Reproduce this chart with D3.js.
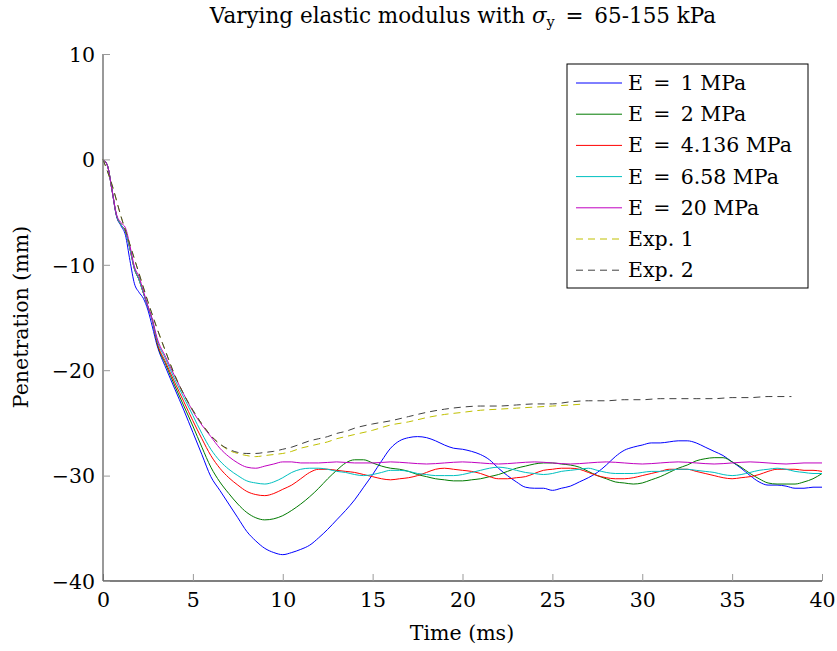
<!DOCTYPE html>
<html>
<head>
<meta charset="utf-8">
<script src="https://cdn.jsdelivr.net/npm/d3@7"></script>
<style>
  body { margin: 0; background: #fff; }
  text { font-family: "DejaVu Serif", "Liberation Serif", serif; fill: #000; }
</style>
</head>
<body>
<svg width="837" height="651"></svg>
<script>
// Chart data (time in ms, penetration in mm)
const xTicks = [0, 5, 10, 15, 20, 25, 30, 35, 40];
const yTicks = [10, 0, -10, -20, -30, -40];

const early = [[0, 0], [0.25, -0.6], [0.5, -2.9], [0.75, -5.3], [1, -6.2], [1.25, -6.8], [1.5, -8.5], [1.75, -10.4], [2, -11.4], [2.25, -12.7], [2.5, -14], [2.75, -15.3]];

const e1 = [[0, 0], [0.25, -0.6], [0.5, -2.9], [0.75, -5.4], [1, -6.3], [1.25, -7.2], [1.5, -9.6], [1.75, -11.8], [2, -12.6], [2.25, -13.2], [2.5, -14.3], [2.75, -15.9],
  [3, -17.6], [3.5, -19.8], [4, -21.8], [4.5, -23.8], [5, -25.9], [5.5, -28], [6, -30.1], [6.5, -31.4], [7, -32.7], [7.5, -34], [8, -35.3], [8.5, -36.2], [9, -36.9], [9.5, -37.3], [10, -37.5],
  [10.5, -37.3], [11, -37], [11.5, -36.6], [12, -35.9], [12.5, -35.1], [13, -34.2], [13.5, -33.3], [14, -32.3], [14.5, -31.1], [15, -29.9], [15.5, -28.6], [16, -27.4], [16.5, -26.7],
  [17, -26.4], [17.5, -26.3], [18, -26.4], [18.5, -26.7], [19, -27.1], [19.5, -27.4], [20, -27.5], [20.5, -27.7], [21, -28], [21.5, -28.5], [22, -29.3], [22.5, -30], [23, -30.6],
  [23.5, -31.1], [24, -31.2], [24.5, -31.2], [25, -31.4], [25.5, -31.2], [26, -31], [26.5, -30.6], [27, -30.2], [27.5, -29.7], [28, -29], [28.5, -28.2], [29, -27.6], [29.5, -27.3],
  [30, -27.1], [30.5, -26.9], [31, -26.9], [31.5, -26.8], [32, -26.7], [32.5, -26.7], [33, -26.9], [33.5, -27.3], [34, -27.7], [34.5, -28.1], [35, -28.7], [35.5, -29.3], [36, -30],
  [36.5, -30.6], [37, -30.9], [37.5, -30.9], [38, -31], [38.5, -31.2], [39, -31.2], [39.5, -31.1], [40, -31.1]];

const e2 = early.concat([[3, -17.4], [3.5, -19.5], [4, -21.5], [4.5, -23.4], [5, -25.3], [5.5, -27.3], [6, -29.2], [6.5, -30.6], [7, -31.7], [7.5, -32.7], [8, -33.5], [8.5, -34], [9, -34.2],
  [9.5, -34.1], [10, -33.8], [10.5, -33.3], [11, -32.7], [11.5, -32], [12, -31.2], [12.5, -30.3], [13, -29.5], [13.5, -28.8], [14, -28.5], [14.5, -28.5], [15, -28.8], [15.5, -29.1],
  [16, -29.3], [16.5, -29.4], [17, -29.6], [17.5, -29.9], [18, -30.1], [18.5, -30.3], [19, -30.4], [19.5, -30.5], [20, -30.5], [20.5, -30.4], [21, -30.3], [21.5, -30.1], [22, -29.9],
  [22.5, -29.6], [23, -29.3], [23.5, -29.1], [24, -28.9], [24.5, -28.8], [25, -28.8], [25.5, -28.9], [26, -29], [26.5, -29.2], [27, -29.6], [27.5, -30], [28, -30.3], [28.5, -30.6],
  [29, -30.7], [29.5, -30.8], [30, -30.7], [30.5, -30.4], [31, -30.1], [31.5, -29.7], [32, -29.3], [32.5, -29], [33, -28.6], [33.5, -28.4], [34, -28.3], [34.5, -28.3], [35, -28.7],
  [35.5, -29.2], [36, -29.8], [36.5, -30.3], [37, -30.7], [37.5, -30.8], [38, -30.8], [38.5, -30.8], [39, -30.6], [39.5, -30.3], [40, -29.8]]);

const e4 = early.concat([[3, -17.3], [3.5, -19.3], [4, -21.2], [4.5, -23], [5, -24.8], [5.5, -26.5], [6, -28.1], [6.5, -29.3], [7, -30.2], [7.5, -30.9], [8, -31.5], [8.5, -31.8], [9, -31.9],
  [9.5, -31.7], [10, -31.3], [10.5, -30.9], [11, -30.3], [11.5, -29.7], [12, -29.4], [12.5, -29.4], [13, -29.5], [13.5, -29.6], [14, -29.7], [14.5, -29.9], [15, -30.1], [15.5, -30.3],
  [16, -30.4], [16.5, -30.3], [17, -30.2], [17.5, -30], [18, -29.7], [18.5, -29.4], [19, -29.3], [19.5, -29.4], [20, -29.5], [20.5, -29.6], [21, -29.8], [21.5, -30.1], [22, -30.3],
  [22.5, -30.3], [23, -30.2], [23.5, -30.1], [24, -29.8], [24.5, -29.5], [25, -29.4], [25.5, -29.3], [26, -29.3], [26.5, -29.4], [27, -29.7], [27.5, -30], [28, -30.2], [28.5, -30.3],
  [29, -30.3], [29.5, -30.2], [30, -30], [30.5, -29.8], [31, -29.6], [31.5, -29.4], [32, -29.4], [32.5, -29.4], [33, -29.6], [33.5, -29.8], [34, -30], [34.5, -30.2], [35, -30.3],
  [35.5, -30.2], [36, -30.1], [36.5, -29.9], [37, -29.6], [37.5, -29.4], [38, -29.4], [38.5, -29.4], [39, -29.5], [39.5, -29.5], [40, -29.6]]);

const e658 = early.concat([[3, -17.1], [3.5, -19], [4, -20.9], [4.5, -22.6], [5, -24.3], [5.5, -26], [6, -27.5], [6.5, -28.6], [7, -29.4], [7.5, -30], [8, -30.5], [8.5, -30.7], [9, -30.8],
  [9.5, -30.6], [10, -30.2], [10.5, -29.7], [11, -29.4], [11.5, -29.3], [12, -29.3], [12.5, -29.4], [13, -29.6], [13.5, -29.7], [14, -29.9], [14.5, -30], [15, -29.9], [15.5, -29.7],
  [16, -29.5], [16.5, -29.5], [17, -29.6], [17.5, -29.8], [18, -29.9], [18.5, -30], [19, -30], [19.5, -30], [20, -29.9], [20.5, -29.7], [21, -29.5], [21.5, -29.3], [22, -29.2],
  [22.5, -29.3], [23, -29.5], [23.5, -29.7], [24, -29.8], [24.5, -29.9], [25, -29.8], [25.5, -29.6], [26, -29.5], [26.5, -29.4], [27, -29.3], [27.5, -29.5], [28, -29.7], [28.5, -29.8],
  [29, -29.8], [29.5, -29.8], [30, -29.7], [30.5, -29.6], [31, -29.6], [31.5, -29.5], [32, -29.4], [32.5, -29.4], [33, -29.5], [33.5, -29.6], [34, -29.7], [34.5, -29.9], [35, -30],
  [35.5, -29.9], [36, -29.7], [36.5, -29.5], [37, -29.4], [37.5, -29.3], [38, -29.4], [38.5, -29.6], [39, -29.7], [39.5, -29.8], [40, -29.8]]);

const e20 = [[0, 0], [0.25, -0.6], [0.5, -2.9], [0.75, -5.2], [1, -6], [1.25, -6.5], [1.5, -8.2], [1.75, -10.2], [2, -11.1], [2.25, -12.5], [2.5, -13.9], [2.75, -15.2],
  [3, -16.9], [3.5, -18.8], [4, -20.6], [4.5, -22.3], [5, -23.9], [5.5, -25.2], [6, -26.3], [6.5, -27.4], [7, -28.2], [7.5, -28.8], [8, -29.2], [8.5, -29.3], [9, -29.1], [9.5, -28.9],
  [10, -28.7], [10.5, -28.7], [11, -28.8], [11.5, -28.8], [12, -28.8], [13, -28.7], [14, -28.8], [15, -28.8], [16, -28.7], [17, -28.8], [18, -28.9], [19, -28.8], [20, -28.7],
  [21, -28.8], [22, -28.9], [23, -28.8], [24, -28.7], [25, -28.8], [26, -28.9], [27, -28.8], [28, -28.7], [29, -28.8], [30, -28.9], [31, -28.8], [32, -28.7], [33, -28.8],
  [34, -28.9], [35, -28.8], [36, -28.7], [37, -28.8], [38, -28.9], [39, -28.8], [40, -28.8]];

const exp1 = [[0, 0], [0.5, -2.4], [1, -5.4], [1.5, -8.1], [2, -10.8], [2.5, -13.5], [3, -16], [3.5, -18.3], [4, -20.5], [4.5, -22.3], [5, -23.8], [5.5, -25.1], [6, -26.2], [6.5, -27],
  [7, -27.6], [7.5, -27.9], [8, -28.1], [8.5, -28.2], [9, -28.1], [9.5, -28], [10, -27.9], [10.5, -27.7], [11, -27.4], [11.5, -27.2], [12, -27], [12.5, -26.8], [13, -26.5],
  [13.5, -26.3], [14, -26.1], [15, -25.7], [16, -25.2], [17, -24.9], [18, -24.5], [19, -24.2], [20, -24], [21, -23.8], [22, -23.7], [23, -23.6], [24, -23.5], [25, -23.4],
  [26, -23.3], [26.8, -23.2]];

const exp2 = [[0, 0], [0.5, -2.4], [1, -5.4], [1.5, -8.1], [2, -10.8], [2.5, -13.5], [3, -16], [3.5, -18.3], [4, -20.5], [4.5, -22.3], [5, -23.8], [5.5, -25.1], [6, -26.2], [6.5, -27],
  [7, -27.5], [7.5, -27.8], [8, -27.9], [8.5, -27.9], [9, -27.8], [9.5, -27.7], [10, -27.5], [10.5, -27.3], [11, -27], [11.5, -26.7], [12, -26.5], [12.5, -26.3], [13, -26],
  [13.5, -25.8], [14, -25.5], [15, -25.1], [16, -24.8], [17, -24.4], [18, -24], [19, -23.7], [20, -23.5], [21, -23.4], [22, -23.4], [23, -23.3], [24, -23.2], [25, -23.2],
  [26, -23], [27, -22.9], [28, -22.9], [29, -22.8], [30, -22.8], [31, -22.7], [32, -22.7], [33, -22.7], [34, -22.7], [35, -22.6], [36, -22.6], [37, -22.5], [38.3, -22.5]];

// en spaces around "=" mimic the wider math spacing
const seriesNames = ["E\u2002=\u20021 MPa", "E\u2002=\u20022 MPa", "E\u2002=\u20024.136 MPa", "E\u2002=\u20026.58 MPa", "E\u2002=\u200220 MPa", "Exp. 1", "Exp. 2"];
const seriesData = [e1, e2, e4, e658, e20, exp1, exp2];
const seriesColors = ["#0000ff", "#007a00", "#ff0000", "#00c0c0", "#c000c0", "#c0c000", "#404040"];
const seriesDashed = [false, false, false, false, false, true, true];

const margin = { top: 54, right: 15, bottom: 70, left: 103 };
const width = 837, height = 651;
const fontSize = 20.5;

const svg = d3.select("svg");

const x = d3.scaleLinear().domain([0, 40]).range([margin.left, width - margin.right]);
const y = d3.scaleLinear().domain([-40, 10]).range([height - margin.bottom, margin.top]);

const fmt = d => d < 0 ? "\u2212" + Math.abs(d) : d;

// Lines
const line = d3.line()
    .x(d => x(d[0]))
    .y(d => y(d[1]))
    .curve(d3.curveMonotoneX);

seriesData.forEach((data, i) => {
    svg.append("path")
        .datum(data)
        .attr("fill", "none")
        .attr("stroke", seriesColors[i])
        .attr("stroke-width", 1)
        .attr("stroke-dasharray", seriesDashed[i] ? "7,5" : null)
        .attr("d", line);
});

// Axes: ticks inside, gray
const xAxis = svg.append("g")
    .attr("transform", `translate(0, ${y(-40)})`)
    .call(d3.axisBottom(x).tickValues(xTicks).tickSize(-7).tickFormat(fmt));
xAxis.select(".domain").attr("stroke", "#000").attr("stroke-width", 1.2).attr("d", `M${x(0)},0H${x(40)}`);
xAxis.selectAll(".tick line").attr("stroke", "#999");
xAxis.selectAll(".tick text")
    .attr("font-size", fontSize).attr("font-family", "DejaVu Serif")
    .attr("y", 26).attr("dy", 0);

const yAxis = svg.append("g")
    .attr("transform", `translate(${x(0)}, 0)`)
    .call(d3.axisLeft(y).tickValues(yTicks).tickSize(-7).tickPadding(8).tickFormat(fmt));
yAxis.select(".domain").attr("stroke", "#555").attr("stroke-width", 1.2).attr("d", `M0,${y(-40)}V${y(10)}`);
yAxis.selectAll(".tick line").attr("stroke", "#999");
yAxis.selectAll(".tick text")
    .attr("font-size", fontSize).attr("font-family", "DejaVu Serif")
    .attr("x", -8).attr("dy", "0.36em");

// Title
const title = svg.append("text")
    .attr("x", 463)
    .attr("y", 23)
    .attr("text-anchor", "middle")
    .attr("font-size", 21.5);
title.append("tspan").text("Varying elastic modulus with ");
title.append("tspan").attr("font-style", "italic").text("\u03c3");
title.append("tspan").attr("font-size", 14.5).attr("dy", 4).text("y");
title.append("tspan").attr("dy", -4).text("\u2002=\u200265-155 kPa");

// Axis labels
svg.append("text")
    .attr("x", 462)
    .attr("y", 640)
    .attr("text-anchor", "middle")
    .attr("font-size", fontSize)
    .text("Time (ms)");

svg.append("text")
    .attr("transform", "rotate(-90)")
    .attr("x", -317)
    .attr("y", 28)
    .attr("text-anchor", "middle")
    .attr("font-size", fontSize)
    .text("Penetration (mm)");

// Legend
const legend = svg.append("g").attr("transform", "translate(567, 64)");
legend.append("rect")
    .attr("width", 241)
    .attr("height", 224)
    .attr("fill", "#fff")
    .attr("stroke", "#000")
    .attr("stroke-width", 1);

seriesNames.forEach((name, i) => {
    const yy = 19 + i * 31.2;
    legend.append("line")
        .attr("x1", 9).attr("x2", 55)
        .attr("y1", yy).attr("y2", yy)
        .attr("stroke", seriesColors[i])
        .attr("stroke-width", 1)
        .attr("stroke-dasharray", seriesDashed[i] ? "7,5" : null);
    legend.append("text")
        .attr("x", 61)
        .attr("y", yy + 7)
        .attr("font-size", fontSize)
        .text(name);
});
</script>
</body>
</html>
